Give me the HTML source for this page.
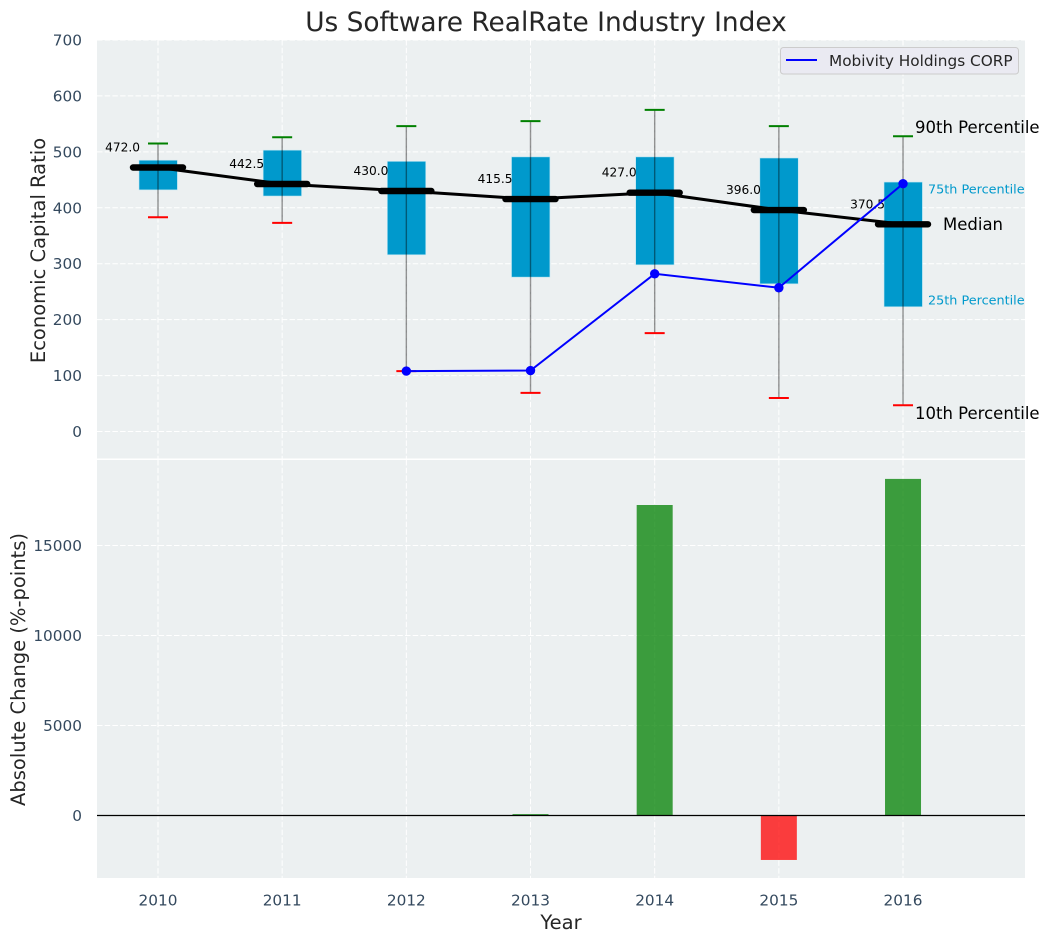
<!DOCTYPE html>
<html lang="en">
<head>
<meta charset="utf-8">
<title>Us Software RealRate Industry Index</title>
<style>
html,body{margin:0;padding:0;background:#fff;width:1050px;height:942px;overflow:hidden}
svg{display:block;font-family:"DejaVu Sans","Liberation Sans",sans-serif}
</style>
</head>
<body>
<svg id="chart" xmlns="http://www.w3.org/2000/svg" width="1050" height="942" viewBox="0 0 1050 942">
  <rect x="97" y="40" width="928" height="418.5" fill="#ecf0f1"/>
  <rect x="97" y="460" width="928" height="418" fill="#ecf0f1"/>
  <g id="grid"></g>
  <g id="bars"></g>
  <g id="boxes"></g>
  <g id="ticks" font-size="15.3" fill="#34495e"></g>
  <text x="546" y="31" font-size="26.4" text-anchor="middle" fill="#262626">Us Software RealRate Industry Index</text>
  <text transform="translate(45,250.5) rotate(-90)" font-size="19.5" text-anchor="middle" fill="#262626">Economic Capital Ratio</text>
  <text transform="translate(25,669.5) rotate(-90)" font-size="19.5" text-anchor="middle" fill="#262626">Absolute Change (%-points)</text>
  <text x="561" y="929" font-size="19.5" text-anchor="middle" fill="#262626">Year</text>
  <text x="915" y="133" font-size="16.5" fill="#000">90th Percentile</text>
  <text x="928" y="193.5" font-size="12.8" fill="#0099cc">75th Percentile</text>
  <text x="943" y="230" font-size="16.5" fill="#000">Median</text>
  <text x="928" y="304.5" font-size="12.8" fill="#0099cc">25th Percentile</text>
  <text x="915" y="419" font-size="16.5" fill="#000">10th Percentile</text>
  <g>
    <rect x="780.5" y="47.5" width="238" height="26.5" rx="3" fill="#eaeaf2" stroke="#cccccc" stroke-width="1"/>
    <line x1="786" y1="60" x2="817" y2="60" stroke="#0000ff" stroke-width="2"/>
    <text x="829" y="66" font-size="15.3" fill="#262626">Mobivity Holdings CORP</text>
  </g>
</svg>
<script>
const years = [2010, 2011, 2012, 2013, 2014, 2015, 2016];
const p90 = [515, 526, 546, 555, 575, 546, 528];
const p75 = [485, 503, 483, 491, 491, 489, 446];
const medians = [472.0, 442.5, 430.0, 415.5, 427.0, 396.0, 370.5];
const p25 = [432, 421, 316, 276, 298, 264, 223];
const p10 = [383, 373, 108, 69, 176, 60, 47];
const companyYears = [2012, 2013, 2014, 2015, 2016];
const companyValues = [108, 109, 282, 257, 443];
const changes = [0, 0, 0, 80, 17250, -2470, 18700];
const topTicks = [0, 100, 200, 300, 400, 500, 600, 700];
const bottomTicks = [0, 5000, 10000, 15000];

const NS = 'http://www.w3.org/2000/svg';
const xScale = function (year) { return 158 + (year - 2010) * 124.17; };
const yTop = function (value) { return 431.5 - value * 0.5593; };
const yBottom = function (value) { return 815.5 - value * 0.018; };

function make(parent, tag, attrs, text) {
  const el = document.createElementNS(NS, tag);
  Object.keys(attrs).forEach(function (k) { el.setAttribute(k, attrs[k]); });
  if (text !== undefined) el.textContent = text;
  parent.appendChild(el);
  return el;
}

const grid = document.getElementById('grid');
const bars = document.getElementById('bars');
const boxes = document.getElementById('boxes');
const ticks = document.getElementById('ticks');
const dash = { stroke: '#ffffff', 'stroke-width': 1, 'stroke-dasharray': '5.5 2.2', fill: 'none' };

years.forEach(function (yr) {
  const x = xScale(yr);
  let g = make(grid, 'line', Object.assign({ x1: x, x2: x, y1: 40, y2: 458.5 }, dash));
  
  
  g = make(grid, 'line', Object.assign({ x1: x, x2: x, y1: 460, y2: 878 }, dash));
  
  
  const t = make(ticks, 'text', { x: x, y: 905.5, 'text-anchor': 'middle' }, String(yr));
  
  
});

topTicks.forEach(function (v) {
  const y = yTop(v);
  const g = make(grid, 'line', Object.assign({ x1: 97, x2: 1025, y1: y, y2: y }, dash));
  
  
  const t = make(ticks, 'text', { x: 82, y: y + 5.5, 'text-anchor': 'end' }, String(v));
  
  
});

bottomTicks.forEach(function (v) {
  const y = yBottom(v);
  const g = make(grid, 'line', Object.assign({ x1: 97, x2: 1025, y1: y, y2: y }, dash));
  
  
  const t = make(ticks, 'text', { x: 82, y: y + 5.5, 'text-anchor': 'end' }, String(v));
  
  
});

changes.forEach(function (v, i) {
  if (v === 0) return;
  const x = xScale(years[i]);
  const y0 = yBottom(0);
  const y1 = yBottom(v);
  const b = make(bars, 'rect', {
    x: x - 18, y: Math.min(y0, y1), width: 36, height: Math.abs(y1 - y0),
    fill: v >= 0 ? '#008000' : '#ff0000', 'fill-opacity': 0.75
  });
  
  
});
const zeroLine = make(bars, 'line', { x1: 97, x2: 1025, y1: yBottom(0), y2: yBottom(0), stroke: '#000000', 'stroke-width': 1.2 });



years.forEach(function (yr, i) {
  const x = xScale(yr);
  const box = make(boxes, 'rect', {
    x: x - 19, y: yTop(p75[i]), width: 38.4, height: yTop(p25[i]) - yTop(p75[i]),
    fill: '#0099cc', stroke: '#bfe6f2', 'stroke-width': 0.6
  });
  
  
});

years.forEach(function (yr, i) {
  const x = xScale(yr);
  const w = make(boxes, 'line', {
    x1: x, x2: x, y1: yTop(p90[i]), y2: yTop(p10[i]),
    stroke: '#000000', 'stroke-opacity': 0.42, 'stroke-width': 1.4
  });
  
  
  const capHigh = make(boxes, 'line', { x1: x - 10, x2: x + 10, y1: yTop(p90[i]), y2: yTop(p90[i]), stroke: '#008000', 'stroke-width': 2 });
  
  
  const capLow = make(boxes, 'line', { x1: x - 10, x2: x + 10, y1: yTop(p10[i]), y2: yTop(p10[i]), stroke: '#ff0000', 'stroke-width': 2 });
  
  
});

const medianPath = make(boxes, 'polyline', {
  points: years.map(function (yr, i) { return xScale(yr) + ',' + yTop(medians[i]); }).join(' '),
  fill: 'none', stroke: '#000000', 'stroke-width': 3
});



years.forEach(function (yr, i) {
  const x = xScale(yr);
  const y = yTop(medians[i]);
  const m = make(boxes, 'line', { x1: x - 25, x2: x + 25, y1: y, y2: y, stroke: '#000000', 'stroke-width': 6.4, 'stroke-linecap': 'round' });
  
  
  const t = make(boxes, 'text', { x: x - 18, y: y - 16, 'text-anchor': 'end', 'font-size': 12.2, fill: '#000000' }, medians[i].toFixed(1));
  
  
});

const companyLine = make(boxes, 'polyline', {
  points: companyYears.map(function (yr, i) { return xScale(yr) + ',' + yTop(companyValues[i]); }).join(' '),
  fill: 'none', stroke: '#0000ff', 'stroke-width': 2
});



companyYears.forEach(function (yr, i) {
  const dot = make(boxes, 'circle', { cx: xScale(yr), cy: yTop(companyValues[i]), r: 4.7, fill: '#0000ff' });
  
  
});
</script>
</body>
</html>
